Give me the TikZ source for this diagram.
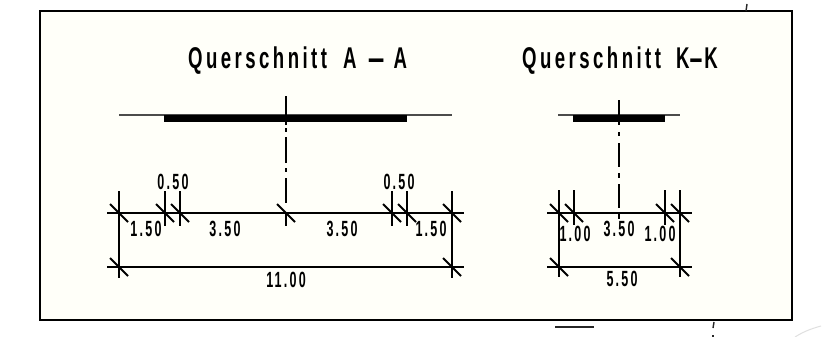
\documentclass[tikz,border=0pt]{standalone}
\usepackage{fontspec}
\setmainfont{Liberation Sans}
\newfontfamily\titlefont[FakeStretch=0.62,LetterSpace=11.5]{Liberation Sans Bold}
\newfontfamily\dimfont[FakeStretch=0.57,LetterSpace=10]{Liberation Sans Bold}
\newcommand{\longhy}[1]{\scalebox{#1}[1]{-}}
\definecolor{paper}{HTML}{FFFFF9}
\tikzset{
  frameline/.style={draw=black,line width=1.9pt,fill=paper},
  dimline/.style={draw=black,line width=1.8pt},
  ground/.style={draw=black!70,line width=1.2pt},
  slab/.style={fill=black,draw=none},
  axisline/.style={draw=black,line width=1.9pt},
  stray/.style={draw=black!85,line width=1.4pt},
  titletext/.style={font=\titlefont\fontsize{30}{30}\selectfont,inner sep=0pt,anchor=base west},
  dimtext/.style={font=\dimfont\fontsize{22}{22}\selectfont,inner sep=0pt,anchor=base},
}
\newcommand{\slashmark}[2]{\draw[dimline] (#1-9,#2-9) -- (#1+9,#2+9);}
\begin{document}
\begin{tikzpicture}[x=1pt,y=-1pt]
\useasboundingbox (0,0) rectangle (827,337);
\path[fill=white] (0,0) rectangle (827,337);
\path[frameline] (40,11) rectangle (792,320);
% titles
\node[titletext] (titleA) at (188,68) {Querschnitt\kern 16pt A\kern 10pt\longhy{3.1}\kern 8pt A};
\node[titletext] (titleK) at (522,68) {Querschnitt\kern 15pt K\kern-1pt\longhy{2.4}\kern 1pt K};
% section A-A
\draw[ground] (119,115) -- (452,115);
\path[slab] (164,115) rectangle (407,122);
\draw[axisline] (286,96) -- (286,125);
\draw[axisline] (286,128) -- (286,132);
\draw[axisline] (286,137) -- (286,163);
\draw[axisline] (286,168) -- (286,172);
\draw[axisline] (286,178) -- (286,203);
% section K-K
\draw[ground] (558,115) -- (680,115);
\path[slab] (573,115) rectangle (665,122);
\draw[axisline] (619,100) -- (619,125);
\draw[axisline] (619,132) -- (619,136);
\draw[axisline] (619,143) -- (619,167);
\draw[axisline] (619,173) -- (619,178);
\draw[axisline] (619,184) -- (619,208);
% dimensions A-A
\draw[dimline] (107,213) -- (464,213);
\draw[dimline] (107,267) -- (464,267);
\draw[dimline] (119,191) -- (119,278);
\draw[dimline] (452,191) -- (452,278);
\draw[dimline] (165,191) -- (165,226);
\draw[dimline] (180,191) -- (180,226);
\draw[dimline] (286,213) -- (286,226);
\draw[dimline] (392,191) -- (392,226);
\draw[dimline] (407,191) -- (407,226);
\slashmark{119}{213}\slashmark{165}{213}\slashmark{180}{213}
\slashmark{286}{213}\slashmark{392}{213}\slashmark{407}{213}
\slashmark{452}{213}\slashmark{119}{267}\slashmark{452}{267}
\node[dimtext] (a1) at (146,236) {1.50};
\node[dimtext] (a2) at (225,236) {3.50};
\node[dimtext] (a3) at (342,236) {3.50};
\node[dimtext] (a4) at (431,236) {1.50};
\node[dimtext] (a5) at (173,189) {0.50};
\node[dimtext] (a6) at (399,189) {0.50};
\node[dimtext] (a7) at (286,287) {11.00};
% dimensions K-K
\draw[dimline] (547,213) -- (692,213);
\draw[dimline] (547,267) -- (692,267);
\draw[dimline] (559,190) -- (559,277);
\draw[dimline] (680,190) -- (680,277);
\draw[dimline] (574,190) -- (574,225);
\draw[dimline] (665,190) -- (665,225);
\draw[dimline] (619,213) -- (619,219);
\slashmark{559}{213}\slashmark{574}{213}\slashmark{665}{213}\slashmark{680}{213}
\slashmark{559}{267}\slashmark{680}{267}
\node[dimtext] (k1) at (575,241) {1.00};
\node[dimtext] (k2) at (619,236) {3.50};
\node[dimtext] (k3) at (660,241) {1.00};
\node[dimtext] (k4) at (622,286) {5.50};
% stray marks beyond the frame
\draw[stray] (555,327) -- (594,327);
\draw[stray] (714,322) -- (713,328);
\draw[stray] (713,335) -- (713,337);
\draw[stray] (747,4) -- (746,11);
\draw[black!12,line width=1pt] (795,337) .. controls (803,332) and (810,329) .. (821,326);
\end{tikzpicture}
\end{document}
